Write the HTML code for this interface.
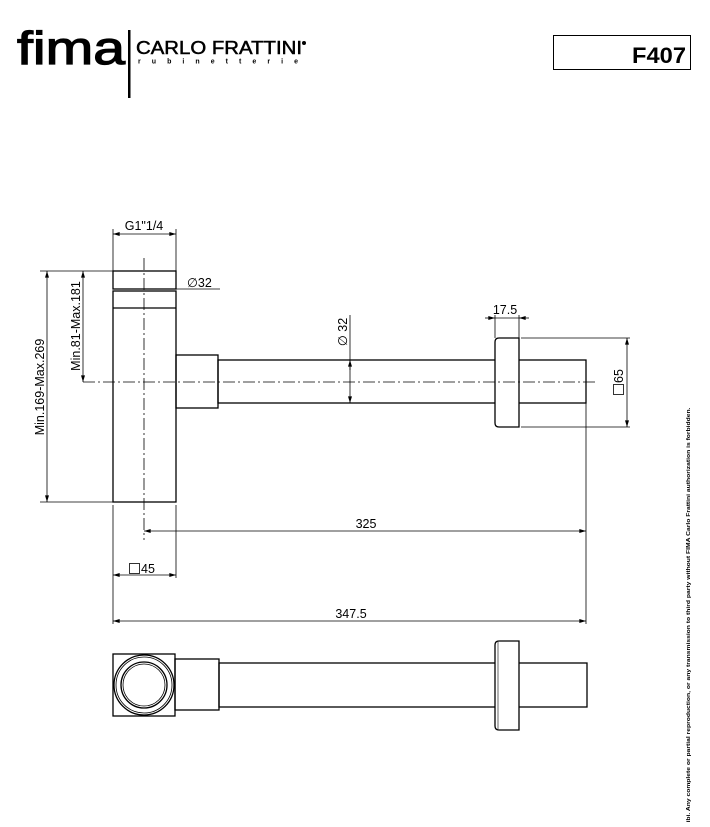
<!DOCTYPE html>
<html><head><meta charset="utf-8"><style>
html,body{margin:0;padding:0;background:#fff;}
svg{display:block;font-family:"Liberation Sans",sans-serif;}
</style></head><body>
<svg width="710" height="827" viewBox="0 0 710 827" xmlns="http://www.w3.org/2000/svg">
<defs>
<marker id="a" viewBox="0 0 10 6" refX="10" refY="3" markerWidth="8" markerHeight="4" orient="auto-start-reverse" markerUnits="userSpaceOnUse"><path d="M0,0 L10,3 L0,6 z" fill="#000"/></marker>
</defs>
<!-- header -->
<text x="17" y="64" font-size="46" stroke="#000" stroke-width="1.2" textLength="108" lengthAdjust="spacingAndGlyphs">fima</text>
<rect x="128" y="30" width="2.5" height="68" fill="#000"/>
<text x="136" y="54" font-size="18" stroke="#000" stroke-width="0.5" textLength="166" lengthAdjust="spacingAndGlyphs">CARLO FRATTINI</text>
<circle cx="304" cy="43" r="2" fill="#000"/>
<text x="138" y="63.5" font-size="7" font-weight="bold" textLength="160" lengthAdjust="spacing">rubinetterie</text>
<rect x="553.5" y="35.5" width="137" height="34" fill="none" stroke="#000"/>
<text x="686" y="63" font-size="22" font-weight="bold" text-anchor="end" textLength="54" lengthAdjust="spacingAndGlyphs">F407</text>

<g fill="none" stroke="#000" stroke-width="1.3">
<rect x="113" y="271" width="63" height="18"/>
<rect x="113" y="291" width="63" height="211"/>
<line x1="113" y1="308" x2="176" y2="308"/>
<rect x="176" y="355" width="42" height="53"/>
<rect x="218" y="360" width="368" height="43"/>
<path d="M519,338 L499,338 Q495,338 495,342 L495,423 Q495,427 499,427 L519,427 Z" fill="#fff"/>
<rect x="113" y="654" width="62" height="62"/>
<circle cx="144" cy="685" r="30"/>
<circle cx="144" cy="685" r="28" stroke-width="0.8"/>
<circle cx="144" cy="685" r="23"/>
<circle cx="144" cy="685" r="21" stroke-width="0.8"/>
<rect x="175" y="659" width="44" height="51"/>
<rect x="219" y="663" width="368" height="44"/>
<path d="M519,641 L499,641 Q495,641 495,645 L495,726 Q495,730 499,730 L519,730 Z" fill="#fff"/>
<line x1="498" y1="642" x2="498" y2="729" stroke-width="0.6"/>
</g>

<g stroke="#000" stroke-width="0.8" fill="none">
<line x1="144" y1="258" x2="144" y2="540" stroke-dasharray="12,3,2,3"/>
<line x1="83" y1="382" x2="597" y2="382" stroke-dasharray="12,3,2,3"/>
<line x1="113" y1="229" x2="113" y2="271"/><line x1="176" y1="229" x2="176" y2="271"/>
<line x1="113" y1="234" x2="176" y2="234" marker-start="url(#a)" marker-end="url(#a)"/>
<line x1="113" y1="289" x2="220" y2="289"/>
<line x1="40" y1="271" x2="113" y2="271"/>
<line x1="40" y1="502" x2="113" y2="502"/>
<line x1="47" y1="271" x2="47" y2="502" marker-start="url(#a)" marker-end="url(#a)"/>
<line x1="83" y1="271" x2="83" y2="382" marker-start="url(#a)" marker-end="url(#a)"/>
<line x1="350" y1="315" x2="350" y2="403" marker-end="url(#a)"/>
<line x1="350" y1="370" x2="350" y2="360" marker-end="url(#a)"/>
<line x1="495" y1="315" x2="495" y2="338"/><line x1="519" y1="315" x2="519" y2="338"/>
<line x1="485" y1="318" x2="495" y2="318" marker-end="url(#a)"/>
<line x1="529" y1="318" x2="519" y2="318" marker-end="url(#a)"/>
<line x1="495" y1="318" x2="519" y2="318"/>
<line x1="521" y1="338" x2="630" y2="338"/><line x1="521" y1="427" x2="630" y2="427"/>
<line x1="627" y1="338" x2="627" y2="427" marker-start="url(#a)" marker-end="url(#a)"/>
<line x1="586" y1="403" x2="586" y2="624"/>
<line x1="144" y1="531" x2="586" y2="531" marker-start="url(#a)" marker-end="url(#a)"/>
<line x1="113" y1="505" x2="113" y2="624"/>
<line x1="176" y1="505" x2="176" y2="578"/>
<line x1="113" y1="575" x2="176" y2="575" marker-start="url(#a)" marker-end="url(#a)"/>
<line x1="113" y1="621" x2="586" y2="621" marker-start="url(#a)" marker-end="url(#a)"/>
<!-- square symbols -->
<rect x="129.5" y="563.5" width="10" height="10"/>
<rect x="613.5" y="384.5" width="10" height="10"/>
</g>

<g font-size="12.5" fill="#000">
<text x="144" y="230" text-anchor="middle">G1"1/4</text>
<text x="187" y="287">∅32</text>
<text x="366" y="528" text-anchor="middle">325</text>
<text x="351" y="618" text-anchor="middle">347.5</text>
<text x="141" y="573">45</text>
<text x="505" y="314" text-anchor="middle">17.5</text>
<text transform="translate(44,387) rotate(-90)" text-anchor="middle">Min.169-Max.269</text>
<text transform="translate(80,326) rotate(-90)" text-anchor="middle">Min.81-Max.181</text>
<text transform="translate(347,332) rotate(-90)" text-anchor="middle">∅ 32</text>
<text transform="translate(623,383) rotate(-90)">65</text>
</g>
<text transform="translate(690,615) rotate(-90)" font-size="5.2" font-weight="bold" text-anchor="middle" textLength="415" lengthAdjust="spacingAndGlyphs">ibi. Any complete or partial reproduction, or any transmission to third party without FIMA Carlo Frattini authorization is forbidden.</text>
</svg>
</body></html>
